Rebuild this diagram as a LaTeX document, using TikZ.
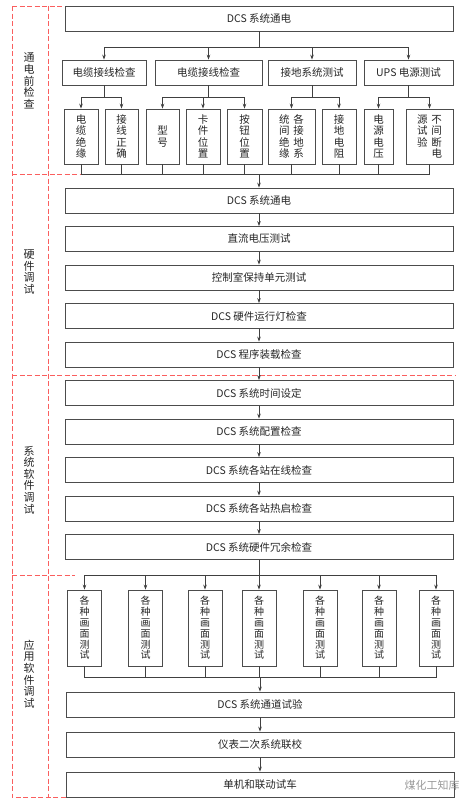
\documentclass[tikz,border=0pt]{standalone}
\usepackage{fontspec}
\newfontfamily\cjk{Noto Sans CJK SC}
\usepackage{xcolor}
\usepackage{tikz}
\usetikzlibrary{arrows.meta}
\definecolor{partred}{RGB}{250,95,95}

\begin{document}
\begin{tikzpicture}[x=1pt,y=-1pt,>={Stealth[length=5pt,width=3.6pt]},
every node/.style={font=\cjk\fontsize{10.5}{12}\selectfont,text=black!85},
widebox/.style={draw=black!70,line width=0.8pt,minimum width=388pt,minimum height=25pt,inner sep=0pt},
midbox/.style={draw=black!70,line width=0.8pt,minimum height=25pt,inner sep=0pt},
itembox/.style={draw=black!70,line width=0.8pt,minimum height=55pt,inner sep=0pt,align=center,font=\cjk\fontsize{10.5}{11.5}\selectfont},
screenbox/.style={draw=black!70,line width=0.8pt,minimum width=34pt,minimum height=76pt,inner sep=0pt,align=center,font=\cjk\fontsize{10}{10.8}\selectfont},
partlabel/.style={align=center,font=\cjk\fontsize{11}{11.6}\selectfont},
partline/.style={partred,line width=0.8pt,dash pattern=on 5pt off 2.5pt},
conn/.style={black!75,line width=0.7pt}]
\useasboundingbox (0,0) rectangle (474,806);
% dashed stage frames
\draw[partline](12,6)--(12,797)--(66,797);
\draw[partline](48,6)--(48,797);
\draw[partline](12,6)--(62,6);
\draw[partline](12,174)--(82,174);
\draw[partline](12,375)--(455,375);
\draw[partline](12,575)--(75,575);
\node[partlabel](l1) at (29,81){通\\电\\前\\检\\查};
\node[partlabel](l2) at (29,272){硬\\件\\调\\试};
\node[partlabel](l3) at (29,480){系\\统\\软\\件\\调\\试};
\node[partlabel](l4) at (29,674){应\\用\\软\\件\\调\\试};
% before power on
\node[widebox](t0) at (259,18.5){DCS 系统通电};
\node[midbox,minimum width=84pt](a1) at (104,72.5){电缆接线检查};
\node[midbox,minimum width=107pt](a2) at (208.5,72.5){电缆接线检查};
\node[midbox,minimum width=88pt](a3) at (312,72.5){接地系统测试};
\node[midbox,minimum width=89pt](a4) at (408.5,72.5){UPS 电源测试};
\node[itembox,minimum width=34pt](b1) at (81,136.5){电\\缆\\绝\\缘};
\node[itembox,minimum width=33pt](b2) at (121.5,136.5){接\\线\\正\\确};
\node[itembox,minimum width=33pt](b3) at (162.5,136.5){型\\号};
\node[itembox,minimum width=34pt](b4) at (203,136.5){卡\\件\\位\\置};
\node[itembox,minimum width=35pt](b5) at (244.5,136.5){按\\钮\\位\\置};
\node[itembox,minimum width=47pt](b6) at (291.5,136.5){统\hspace{4pt}各\\间\hspace{4pt}接\\绝\hspace{4pt}地\\缘\hspace{4pt}系};
\node[itembox,minimum width=34pt](b7) at (339,136.5){接\\地\\电\\阻};
\node[itembox,minimum width=29pt](b8) at (378.5,136.5){电\\源\\电\\压};
\node[itembox,minimum width=47pt](b9) at (429.5,136.5){源\hspace{4pt}不\\试\hspace{4pt}间\\验\hspace{4pt}断\\\phantom{验}\hspace{4pt}电};
\coordinate(r0) at (0,47);
\coordinate(r1) at (0,97);
\coordinate(r2) at (0,174);
\draw[conn](t0.south)--(t0.south|-r0);
\draw[conn](a1.north|-r0)--(a4.north|-r0);
\draw[conn,->](a1.north|-r0)--(a1.north);
\draw[conn,->](a2.north|-r0)--(a2.north);
\draw[conn,->](a3.north|-r0)--(a3.north);
\draw[conn,->](a4.north|-r0)--(a4.north);
\draw[conn](a1.south)--(a1.south|-r1) (b1.north|-r1)--(b2.north|-r1);
\draw[conn](a2.south)--(a2.south|-r1) (b3.north|-r1)--(b5.north|-r1);
\draw[conn](a3.south)--(a3.south|-r1) (b6.north|-r1)--(b7.north|-r1);
\draw[conn](a4.south)--(a4.south|-r1) (b8.north|-r1)--(b9.north|-r1);
\draw[conn,->](b1.north|-r1)--(b1.north);
\draw[conn,->](b2.north|-r1)--(b2.north);
\draw[conn,->](b3.north|-r1)--(b3.north);
\draw[conn,->](b4.north|-r1)--(b4.north);
\draw[conn,->](b5.north|-r1)--(b5.north);
\draw[conn,->](b6.north|-r1)--(b6.north);
\draw[conn,->](b7.north|-r1)--(b7.north);
\draw[conn,->](b8.north|-r1)--(b8.north);
\draw[conn,->](b9.north|-r1)--(b9.north);
\draw[conn](b1.south)--(b1.south|-r2)--(b9.south|-r2)--(b9.south)
(b2.south)--(b2.south|-r2) (b3.south)--(b3.south|-r2) (b4.south)--(b4.south|-r2)
(b5.south)--(b5.south|-r2) (b6.south)--(b6.south|-r2) (b7.south)--(b7.south|-r2)
(b8.south)--(b8.south|-r2);
% hardware and system software
\node[widebox](h1) at (259,200.5){DCS 系统通电};
\node[widebox](h2) at (259,239){直流电压测试};
\node[widebox](h3) at (259,277.5){控制室保持单元测试};
\node[widebox](h4) at (259,316){DCS 硬件运行灯检查};
\node[widebox](h5) at (259,354.5){DCS 程序装载检查};
\node[widebox](s1) at (259,393){DCS 系统时间设定};
\node[widebox](s2) at (259,431.5){DCS 系统配置检查};
\node[widebox](s3) at (259,470){DCS 系统各站在线检查};
\node[widebox](s4) at (259,508.5){DCS 系统各站热启检查};
\node[widebox](s5) at (259,547){DCS 系统硬件冗余检查};
\draw[conn,->](h1.north|-r2)--(h1.north);
\draw[conn,->](h1)--(h2);
\draw[conn,->](h2)--(h3);
\draw[conn,->](h3)--(h4);
\draw[conn,->](h4)--(h5);
\draw[conn,->](h5)--(s1);
\draw[conn,->](s1)--(s2);
\draw[conn,->](s2)--(s3);
\draw[conn,->](s3)--(s4);
\draw[conn,->](s4)--(s5);
% application software
\node[screenbox](p1) at (84.5,628){各\\种\\画\\面\\测\\试};
\node[screenbox](p2) at (145.5,628){各\\种\\画\\面\\测\\试};
\node[screenbox](p3) at (205,628){各\\种\\画\\面\\测\\试};
\node[screenbox](p4) at (259,628){各\\种\\画\\面\\测\\试};
\node[screenbox](p5) at (320,628){各\\种\\画\\面\\测\\试};
\node[screenbox](p6) at (379,628){各\\种\\画\\面\\测\\试};
\node[screenbox](p7) at (436,628){各\\种\\画\\面\\测\\试};
\coordinate(r3) at (0,575);
\coordinate(r4) at (0,677);
\draw[conn](s5.south)--(s5.south|-r3) (p1.north|-r3)--(p7.north|-r3);
\draw[conn,->](p1.north|-r3)--(p1.north);
\draw[conn,->](p2.north|-r3)--(p2.north);
\draw[conn,->](p3.north|-r3)--(p3.north);
\draw[conn,->](p4.north|-r3)--(p4.north);
\draw[conn,->](p5.north|-r3)--(p5.north);
\draw[conn,->](p6.north|-r3)--(p6.north);
\draw[conn,->](p7.north|-r3)--(p7.north);
\draw[conn](p1.south)--(p1.south|-r4)--(p7.south|-r4)--(p7.south)
(p2.south)--(p2.south|-r4) (p3.south)--(p3.south|-r4) (p4.south)--(p4.south|-r4)
(p5.south)--(p5.south|-r4) (p6.south)--(p6.south|-r4);
\node[widebox](f1) at (260,704.5){DCS 系统通道试验};
\node[widebox](f2) at (260,744.5){仪表二次系统联校};
\node[widebox](f3) at (260,784.5){单机和联动试车};
\draw[conn,->](f1.north|-r4)--(f1.north);
\draw[conn,->](f1)--(f2);
\draw[conn,->](f2)--(f3);
\node[text=black!40,font=\cjk\fontsize{11}{12}\selectfont](wm) at (432,785){煤化工知库};
\end{tikzpicture}
\end{document}
